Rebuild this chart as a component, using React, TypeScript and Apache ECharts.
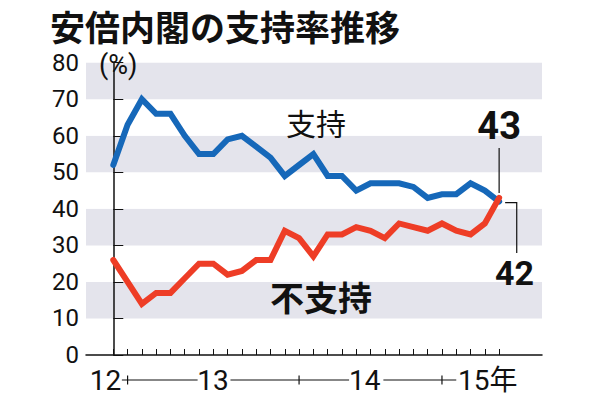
import React, { useEffect, useRef } from "react";
import * as echarts from "echarts";

// ---- data ----
const surveyIndex = [0, 1, 2, 3, 4, 5, 6, 7, 8, 9, 10, 11, 12, 13, 14, 15, 16, 17, 18, 19, 20, 21, 22, 23, 24, 25, 26, 27];
const support = [52, 63, 70, 66, 66, 60, 55, 55, 59, 60, 57, 54, 49, 52, 55, 49, 49, 45, 47, 47, 47, 46, 43, 44, 44, 47, 45, 42];
const nonSupport = [26, 20, 14, 17, 17, 21, 25, 25, 22, 23, 26, 26, 34, 32, 27, 33, 33, 35, 34, 32, 36, 35, 34, 36, 34, 33, 36, 43];
const yTicks = [0, 10, 20, 30, 40, 50, 60, 70, 80];
const yearLabels = ["12", "13", "14", "15年"];
const yearBoundaries = [1, 13, 23];
const seriesNames = ["支持", "不支持"];
const titleText = "安倍内閣の支持率推移";
const unitText = "(%)";

// ---- layout / style (not data) ----
const yearLabelPos = [-0.54, 6.98, 17.6, 26.2];
const yearSegments = [[0.6, 5.9], [8.2, 16.5], [18.9, 24.0]];
const BLUE = "#1668b9";
const RED = "#ee3d26";
const BAND = "#e4e4ec";
const INK = "#111111";
const NUM_FONT = "Roboto, 'Liberation Sans', sans-serif";
const CJK_FONT = "'Noto Sans CJK JP', 'Noto Sans', sans-serif";

export default function App() {
  const ref = useRef<HTMLDivElement>(null);
  useEffect(() => {
    const chart = echarts.init(ref.current!, null, { renderer: "svg" });
    chart.setOption({
      animation: false,
      backgroundColor: "#ffffff",
      grid: { left: 86, right: 58, top: 62.7, bottom: 41 },
      xAxis: {
        type: "value",
        min: -1.91,
        max: 30.0,
        axisLine: { show: true, onZero: false, lineStyle: { color: INK, width: 1.5 } },
        axisTick: { show: true, inside: true, length: 6, customValues: surveyIndex, lineStyle: { color: INK, width: 1 } },
        axisLabel: { show: false },
        splitLine: { show: false },
      },
      yAxis: {
        type: "value",
        min: yTicks[0],
        max: yTicks[yTicks.length - 1],
        interval: 10,
        axisLine: { show: true, lineStyle: { color: INK, width: 1.5 } },
        axisTick: { show: true, inside: true, length: 10, lineStyle: { color: INK, width: 1 } },
        axisLabel: { fontSize: 24, color: INK, fontFamily: NUM_FONT, margin: 7, lineHeight: 24 },
        splitLine: { show: false },
        splitArea: { show: true, areaStyle: { color: ["#ffffff", BAND] } },
      },
      series: [
        {
          type: "line",
          name: seriesNames[0],
          data: surveyIndex.map((i) => [i, support[i]]),
          showSymbol: false,
          lineStyle: { color: BLUE, width: 6, cap: "round", join: "miter" },
          z: 3,
        },
        {
          type: "line",
          name: seriesNames[1],
          data: surveyIndex.map((i) => [i, nonSupport[i]]),
          showSymbol: false,
          lineStyle: { color: RED, width: 6, cap: "round", join: "miter" },
          z: 4,
        },
      ],
    });

    const px = (i: number, v: number) => chart.convertToPixel({ gridIndex: 0 }, [i, v]) as number[];
    const base = px(0, 0)[1];
    const rowY = base + 25;
    const last = surveyIndex.length - 1;
    const redEnd = px(surveyIndex[last], nonSupport[last]);
    const blueEnd = px(surveyIndex[last], support[last]);
    const lineStyle = { stroke: INK, lineWidth: 1.2 };

    const g: any[] = [];
    g.push({
      type: "text",
      x: 50,
      y: 25,
      style: { text: titleText, fill: INK, fontSize: 35, lineHeight: 36, fontWeight: "bold", fontFamily: CJK_FONT, align: "left", verticalAlign: "middle" },
    });
    g.push({
      type: "text",
      x: 99,
      y: 65,
      style: { text: unitText, fill: INK, fontSize: 27, lineHeight: 27, fontFamily: NUM_FONT, align: "left", verticalAlign: "middle" },
    });
    yearLabels.forEach((t, k) => {
      const x = px(yearLabelPos[k], 0)[0];
      g.push({
        type: "text",
        x,
        y: rowY,
        style: { text: t, fill: INK, fontSize: 28, fontFamily: NUM_FONT + ", " + CJK_FONT, align: "center", verticalAlign: "middle" },
      });
    });
    yearSegments.forEach(([a, b]) => {
      g.push({ type: "line", shape: { x1: px(a, 0)[0], y1: rowY, x2: px(b, 0)[0], y2: rowY }, style: lineStyle });
    });
    yearBoundaries.forEach((i) => {
      const x = px(i, 0)[0];
      g.push({ type: "line", shape: { x1: x, y1: rowY - 4.5, x2: x, y2: rowY + 4.5 }, style: lineStyle });
    });
    // series labels
    g.push({
      type: "text",
      x: 316,
      y: 122,
      style: { text: seriesNames[0], fill: INK, fontSize: 30, fontFamily: CJK_FONT, align: "center", verticalAlign: "middle" },
    });
    g.push({
      type: "text",
      x: 321,
      y: 296,
      style: { text: seriesNames[1], fill: INK, fontSize: 34, fontWeight: "bold", fontFamily: CJK_FONT, align: "center", verticalAlign: "middle" },
    });
    // end labels with leaders
    g.push({ type: "line", shape: { x1: redEnd[0], y1: redEnd[1] - 5, x2: redEnd[0], y2: redEnd[1] - 50 }, style: lineStyle });
    g.push({
      type: "text",
      x: redEnd[0],
      y: redEnd[1] - 53,
      style: { text: String(nonSupport[last]), fill: INK, fontSize: 38, fontWeight: "bold", fontFamily: NUM_FONT, align: "center", verticalAlign: "bottom" },
    });
    g.push({
      type: "polyline",
      shape: { points: [[blueEnd[0] + 6, blueEnd[1] + 1], [blueEnd[0] + 17.6, blueEnd[1] + 1], [blueEnd[0] + 17.6, blueEnd[1] + 51.5]] },
      style: { ...lineStyle, fill: "none" },
    });
    g.push({
      type: "text",
      x: blueEnd[0] + 15.4,
      y: blueEnd[1] + 54,
      style: { text: String(support[last]), fill: INK, fontSize: 34, fontWeight: "bold", fontFamily: NUM_FONT, align: "center", verticalAlign: "top" },
    });
    chart.setOption({ graphic: g });

    return () => chart.dispose();
  }, []);
  return <div ref={ref} style={{ position: "fixed", left: 0, top: 0, width: 600, height: 396 }} />;
}
